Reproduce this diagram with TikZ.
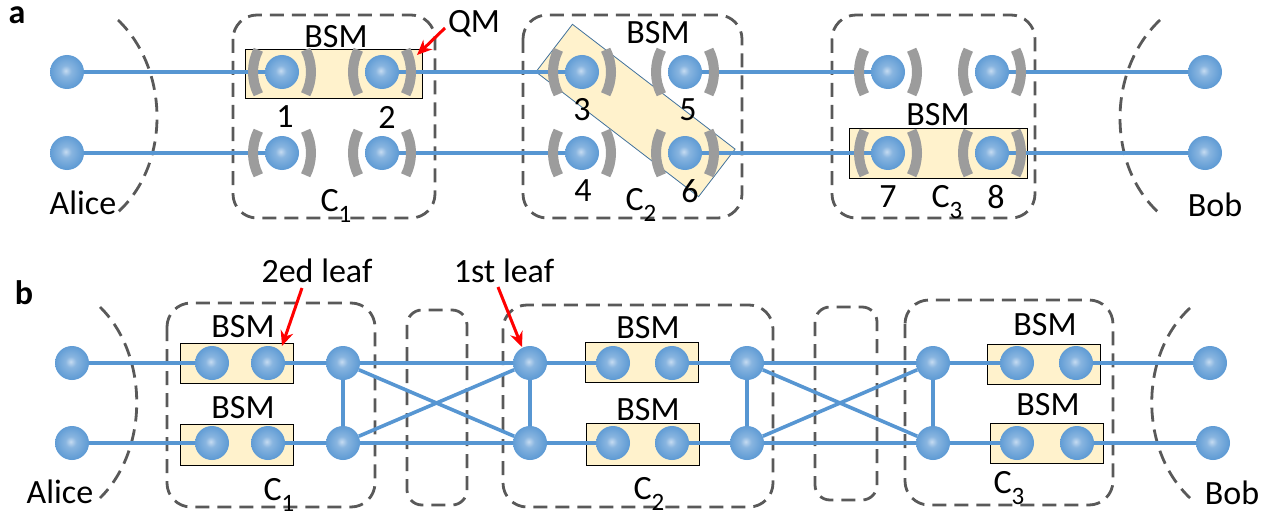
\documentclass[tikz,border=0pt]{standalone}
\usepackage{fontspec}
\setmainfont{Carlito}
\usetikzlibrary{arrows.meta}
\definecolor{qblue}{HTML}{5796D2}
\definecolor{qlight}{HTML}{C5DBF1}
\definecolor{qrim}{HTML}{3F7BBE}
\definecolor{bsmfill}{HTML}{FFF2CC}
\definecolor{boxgray}{HTML}{595959}
\definecolor{mirgray}{HTML}{9C9C9C}
\definecolor{rotedge}{HTML}{41719C}
\pgfdeclareradialshading{qball}{\pgfpoint{-2bp}{2bp}}{color(0bp)=(qlight);color(8bp)=(qlight!45!qblue);color(28bp)=(qblue);color(50bp)=(qrim)}
\newcommand\csub[1]{C\raisebox{-0.32em}{\fontsize{25}{25}\selectfont #1}}
\tikzset{
  qubit/.style={circle,minimum size=34,inner sep=0,shading=qball},
  bsmbox/.style={draw=black,line width=0.9,fill=bsmfill,inner sep=0},
  cbox/.style={draw=boxgray,line width=2.8,dash pattern=on 14 off 8,rounded corners=24},
  party/.style={draw=boxgray,line width=2.8,dash pattern=on 14 off 8},
  link/.style={draw=qblue,line width=3.6},
  mirror/.style={draw=mirgray,line width=10},
  pointer/.style={draw=red,line width=3,-{Stealth[length=15,width=13]}},
  lbl/.style={inner sep=0,font=\fontsize{34}{40}\selectfont},
  mirrors/.pic={
    \draw[mirror] ([shift={(20,0)}]153:49) arc (153:207:49);
    \draw[mirror] ([shift={(-20,0)}]-27:49) arc (-27:27:49);
  }
}
\begin{document}
\begin{tikzpicture}[x=1pt,y=-1pt]
\useasboundingbox (0,0) rectangle (1284,516);

\node[lbl,font=\fontsize{34}{38}\bfseries] (taga) at (17,15) {a};
\node[lbl,font=\fontsize{34}{38}\bfseries] (tagb) at (24,293) {b};

\draw[party] (118,20) .. controls (170,70) and (170,165) .. (118,212);
\draw[party] (1160,20) .. controls (1107,70) and (1107,165) .. (1158,212);
\draw[cbox] (233,15) rectangle (435,218);
\draw[cbox] (523,15) rectangle (742,218);
\draw[cbox] (832,15) rectangle (1035,218);

\node[bsmbox,minimum width=177,minimum height=49] (bsma1) at (333.5,73.5) {};
\node[bsmbox,draw=rotedge,line width=0.8,minimum width=205,minimum height=60,rotate=-37.5] (bsma2) at (635.5,110.5) {};
\node[bsmbox,minimum width=178,minimum height=50] (bsma3) at (938,153) {};

\node[qubit] (alA1) at (67,72) {};
\node[qubit] (alA2) at (67,153) {};
\node[qubit] (q1) at (282,72) {};
\node[qubit] (q2) at (382,72) {};
\node[qubit] (qb1) at (282,153) {};
\node[qubit] (qb2) at (382,153) {};
\node[qubit] (q3) at (582,72) {};
\node[qubit] (q5) at (685,72) {};
\node[qubit] (q4) at (582,153) {};
\node[qubit] (q6) at (685,153) {};
\node[qubit] (qt7) at (888,72) {};
\node[qubit] (qt8) at (992,72) {};
\node[qubit] (q7) at (888,153) {};
\node[qubit] (q8) at (992,153) {};
\node[qubit] (boA1) at (1205,72) {};
\node[qubit] (boA2) at (1205,153) {};

\draw[link] (alA1) -- (q1);
\draw[link] (q2) -- (q3);
\draw[link] (q5) -- (qt7);
\draw[link] (qt8) -- (boA1);
\draw[link] (alA2) -- (qb1);
\draw[link] (qb2) -- (q4);
\draw[link] (q6) -- (q7);
\draw[link] (q8) -- (boA2);

\foreach \q in {q1,q2,qb1,qb2,q3,q5,q4,q6,qt7,qt8,q7,q8}
  \pic at (\q) {mirrors};

\node[lbl] (bsmta1) at (336,37) {BSM};
\node[lbl] (bsmta2) at (658,33) {BSM};
\node[lbl] (bsmta3) at (938,115) {BSM};
\node[lbl] (n1) at (285,117) {1};
\node[lbl] (n2) at (387,117) {2};
\node[lbl] (n3) at (582,110) {3};
\node[lbl] (n5) at (688,110) {5};
\node[lbl] (n4) at (583,191) {4};
\node[lbl] (n6) at (690,191) {6};
\node[lbl] (n7) at (888,197) {7};
\node[lbl] (n8) at (996,197) {8};
\node[lbl] (ca1) at (336,206) {\csub{1}};
\node[lbl] (ca2) at (641,205) {\csub{2}};
\node[lbl] (ca3) at (947,202) {\csub{3}};
\node[lbl] (alicea) at (83,203) {Alice};
\node[lbl] (boba) at (1215,205) {Bob};
\node[lbl] (qm) at (474,24) {QM};
\coordinate (qmtail) at (445,28);
\draw[pointer] (qmtail) -- (417,55);

\draw[party] (100,307) .. controls (149,355) and (149,450) .. (100,498);
\draw[party] (1190,308) .. controls (1139,355) and (1139,450) .. (1190,498);
\draw[cbox] (167,303) rectangle (375,507);
\draw[cbox,rounded corners=15] (407,310) rectangle (467,505);
\draw[cbox] (503,305) rectangle (773,507);
\draw[cbox,rounded corners=15] (815,307) rectangle (877,500);
\draw[cbox] (905,300) rectangle (1113,505);

\node[bsmbox,minimum width=113,minimum height=40] (bsmb1) at (236.5,363) {};
\node[bsmbox,minimum width=113,minimum height=41] (bsmb2) at (236.5,444.5) {};
\node[bsmbox,minimum width=113,minimum height=40] (bsmb3) at (641.5,362) {};
\node[bsmbox,minimum width=113,minimum height=42] (bsmb4) at (642.5,444) {};
\node[bsmbox,minimum width=113,minimum height=40] (bsmb5) at (1043.5,364) {};
\node[bsmbox,minimum width=113,minimum height=40] (bsmb6) at (1046.5,443) {};

\node[qubit] (alB1) at (72,363) {};
\node[qubit] (alB2) at (72,443) {};
\node[qubit] (u1) at (212,363) {};
\node[qubit] (u2) at (268,363) {};
\node[qubit] (d1) at (212,443) {};
\node[qubit] (d2) at (268,443) {};
\node[qubit] (lfu1) at (343,363) {};
\node[qubit] (lfd1) at (343,443) {};
\node[qubit] (lfu2) at (530,363) {};
\node[qubit] (lfd2) at (530,443) {};
\node[qubit] (u3) at (613,363) {};
\node[qubit] (u4) at (672,363) {};
\node[qubit] (d3) at (613,443) {};
\node[qubit] (d4) at (672,443) {};
\node[qubit] (lfu3) at (747,363) {};
\node[qubit] (lfd3) at (747,443) {};
\node[qubit] (lfu4) at (933,363) {};
\node[qubit] (lfd4) at (933,443) {};
\node[qubit] (u5) at (1017,363) {};
\node[qubit] (u6) at (1076,363) {};
\node[qubit] (d5) at (1017,443) {};
\node[qubit] (d6) at (1077,443) {};
\node[qubit] (boB1) at (1210,363) {};
\node[qubit] (boB2) at (1213,443) {};

\draw[link] (alB1) -- (u1);
\draw[link] (u2) -- (lfu1);
\draw[link] (lfu1) -- (lfu2);
\draw[link] (lfu2) -- (u3);
\draw[link] (u4) -- (lfu3);
\draw[link] (lfu3) -- (lfu4);
\draw[link] (lfu4) -- (u5);
\draw[link] (u6) -- (boB1);
\draw[link] (alB2) -- (d1);
\draw[link] (d2) -- (lfd1);
\draw[link] (lfd1) -- (lfd2);
\draw[link] (lfd2) -- (d3);
\draw[link] (d4) -- (lfd3);
\draw[link] (lfd3) -- (lfd4);
\draw[link] (lfd4) -- (d5);
\draw[link] (d6) -- (boB2);
\draw[link] (lfu1) -- (lfd1);
\draw[link] (lfu2) -- (lfd2);
\draw[link] (lfu3) -- (lfd3);
\draw[link] (lfu4) -- (lfd4);
\draw[link] (lfu1) -- (lfd2);
\draw[link] (lfd1) -- (lfu2);
\draw[link] (lfu3) -- (lfd4);
\draw[link] (lfd3) -- (lfu4);

\node[lbl] (bsmtb1) at (243,327) {BSM};
\node[lbl] (bsmtb2) at (243,408) {BSM};
\node[lbl] (bsmtb3) at (648,328) {BSM};
\node[lbl] (bsmtb4) at (648,410) {BSM};
\node[lbl] (bsmtb5) at (1045,325) {BSM};
\node[lbl] (bsmtb6) at (1048,405) {BSM};
\node[lbl] (cb1) at (279,495) {\csub{1}};
\node[lbl] (cb2) at (649,494) {\csub{2}};
\node[lbl] (cb3) at (1009,488) {\csub{3}};
\node[lbl] (aliceb) at (60,492) {Alice};
\node[lbl] (bobb) at (1232,493) {Bob};
\node[lbl] (leaf2) at (317,271) {2ed leaf};
\node[lbl] (leaf1) at (504,271) {1st leaf};
\coordinate (leaf2tail) at (302,288);
\coordinate (leaf1tail) at (498,287);
\draw[pointer] (leaf2tail) -- (282,346);
\draw[pointer] (leaf1tail) -- (522,347);
\end{tikzpicture}
\end{document}
